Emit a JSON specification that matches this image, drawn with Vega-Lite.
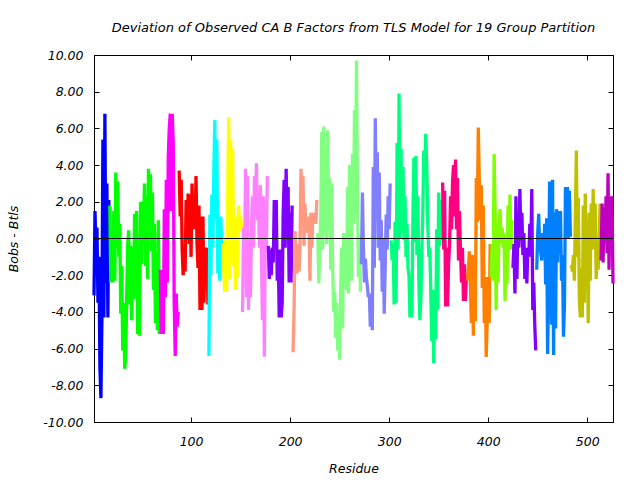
{
 "$schema": "https://vega.github.io/schema/vega-lite/v6.json",
 "width": 519,
 "height": 367,
 "autosize": {"type": "none"},
 "padding": {"left": 94, "top": 55, "right": 27, "bottom": 58},
 "background": "white",
 "title": {"text": "Deviation of Observed CA B Factors from TLS Model for 19 Group Partition", "font": "DejaVu Sans", "fontStyle": "italic", "fontWeight": "normal", "fontSize": 13, "color": "black", "anchor": "middle", "offset": 14},
 "config": {"view": {"stroke": "black", "strokeWidth": 1}},
 "data": {"values": [
{"r":2,"v":-3.1,"s":1},{"r":3,"v":1.5,"s":1},{"r":4,"v":-0.6,"s":1},{"r":5,"v":0.6,"s":1},{"r":6,"v":-3.5,"s":1},{"r":7,"v":-1.0,"s":1},{"r":8,"v":-7.1,"s":1},{"r":9,"v":-8.7,"s":1},{"r":10,"v":-4.3,"s":1},{"r":11,"v":5.4,"s":1},{"r":12,"v":-4.3,"s":1},{"r":13,"v":6.8,"s":1},{"r":14,"v":-2.45,"s":1},{"r":15,"v":3.0,"s":1},{"r":16,"v":-4.3,"s":1},{"r":17,"v":2.1,"s":1},
{"r":18,"v":1.8,"s":2},{"r":19,"v":-2.4,"s":2},{"r":20,"v":0.4,"s":2},{"r":21,"v":-2.4,"s":2},{"r":22,"v":1.5,"s":2},{"r":23,"v":-2.3,"s":2},{"r":24,"v":3.6,"s":2},{"r":25,"v":-0.5,"s":2},{"r":26,"v":3.1,"s":2},{"r":27,"v":-1.0,"s":2},{"r":28,"v":0.8,"s":2},{"r":29,"v":-4.1,"s":2},{"r":30,"v":-1.5,"s":2},{"r":31,"v":-6.1,"s":2},{"r":32,"v":-3.5,"s":2},{"r":33,"v":-7.1,"s":2},{"r":34,"v":-6.5,"s":2},{"r":35,"v":-3.2,"s":2},{"r":36,"v":-0.4,"s":2},{"r":37,"v":0.45,"s":2},{"r":38,"v":-3.6,"s":2},{"r":39,"v":-0.4,"s":2},{"r":40,"v":-4.45,"s":2},{"r":41,"v":-0.5,"s":2},{"r":42,"v":-3.3,"s":2},{"r":43,"v":1.35,"s":2},{"r":44,"v":-2.3,"s":2},{"r":45,"v":1.5,"s":2},{"r":46,"v":-5.2,"s":2},{"r":47,"v":-1.2,"s":2},{"r":48,"v":-5.3,"s":2},{"r":49,"v":2.0,"s":2},{"r":50,"v":-1.4,"s":2},{"r":51,"v":2.0,"s":2},{"r":52,"v":0.8,"s":2},{"r":53,"v":3.0,"s":2},{"r":54,"v":-1.5,"s":2},{"r":55,"v":2.3,"s":2},{"r":56,"v":-2.2,"s":2},{"r":57,"v":3.8,"s":2},{"r":58,"v":0.5,"s":2},{"r":59,"v":3.5,"s":2},{"r":60,"v":-0.7,"s":2},{"r":61,"v":2.5,"s":2},{"r":62,"v":-2.8,"s":2},{"r":63,"v":0.8,"s":2},{"r":64,"v":-4.6,"s":2},{"r":65,"v":-2.0,"s":2},{"r":66,"v":-5.0,"s":2},{"r":67,"v":1.0,"s":2},{"r":68,"v":-5.2,"s":2},
{"r":69,"v":-1.7,"s":3},{"r":70,"v":-5.2,"s":3},{"r":71,"v":-1.7,"s":3},{"r":72,"v":-5.2,"s":3},{"r":73,"v":1.6,"s":3},{"r":74,"v":-3.2,"s":3},{"r":75,"v":3.2,"s":3},{"r":76,"v":-2.4,"s":3},{"r":77,"v":4.5,"s":3},{"r":78,"v":6.0,"s":3},{"r":79,"v":6.8,"s":3},{"r":80,"v":1.5,"s":3},{"r":81,"v":6.8,"s":3},{"r":82,"v":5.2,"s":3},{"r":83,"v":-3.6,"s":3},{"r":84,"v":-6.4,"s":3},{"r":85,"v":-3.0,"s":3},{"r":86,"v":-4.8,"s":3},{"r":87,"v":-4.0,"s":3},
{"r":88,"v":3.7,"s":4},{"r":89,"v":1.2,"s":4},{"r":90,"v":3.2,"s":4},{"r":91,"v":-0.6,"s":4},{"r":92,"v":-2.0,"s":4},{"r":93,"v":-1.0,"s":4},{"r":94,"v":-1.8,"s":4},{"r":95,"v":2.1,"s":4},{"r":96,"v":0.0,"s":4},{"r":97,"v":2.45,"s":4},{"r":98,"v":-0.3,"s":4},{"r":99,"v":2.4,"s":4},{"r":100,"v":-1.0,"s":4},{"r":101,"v":3.0,"s":4},{"r":102,"v":0.5,"s":4},{"r":103,"v":2.4,"s":4},{"r":104,"v":0.5,"s":4},{"r":105,"v":3.4,"s":4},{"r":106,"v":-0.3,"s":4},{"r":107,"v":-1.6,"s":4},{"r":108,"v":1.8,"s":4},{"r":109,"v":-3.9,"s":4},{"r":110,"v":1.2,"s":4},{"r":111,"v":-3.9,"s":4},{"r":112,"v":1.2,"s":4},{"r":113,"v":-3.5,"s":4},{"r":114,"v":-0.5,"s":4},{"r":115,"v":-1.8,"s":4},{"r":116,"v":-0.5,"s":4},{"r":117,"v":-3.6,"s":4},
{"r":118,"v":-6.4,"s":5},{"r":119,"v":1.3,"s":5},{"r":120,"v":-2.0,"s":5},{"r":121,"v":2.4,"s":5},{"r":122,"v":-0.5,"s":5},{"r":123,"v":3.7,"s":5},{"r":124,"v":6.45,"s":5},{"r":125,"v":1.0,"s":5},{"r":126,"v":5.4,"s":5},{"r":127,"v":-1.9,"s":5},{"r":128,"v":0.0,"s":5},{"r":129,"v":-2.3,"s":5},{"r":130,"v":1.2,"s":5},{"r":131,"v":-0.5,"s":5},
{"r":132,"v":-0.3,"s":6},{"r":133,"v":-1.7,"s":6},{"r":134,"v":-2.9,"s":6},{"r":135,"v":0.0,"s":6},{"r":136,"v":-2.9,"s":6},{"r":137,"v":2.3,"s":6},{"r":138,"v":6.6,"s":6},{"r":139,"v":-2.2,"s":6},{"r":140,"v":5.4,"s":6},{"r":141,"v":0.0,"s":6},{"r":142,"v":4.9,"s":6},{"r":143,"v":-1.5,"s":6},{"r":144,"v":1.0,"s":6},{"r":145,"v":-2.8,"s":6},{"r":146,"v":1.2,"s":6},{"r":147,"v":-2.1,"s":6},{"r":148,"v":1.8,"s":6},{"r":149,"v":0.4,"s":6},{"r":150,"v":1.2,"s":6},{"r":151,"v":0.6,"s":6},
{"r":152,"v":-4.0,"s":7},{"r":153,"v":0.6,"s":7},{"r":154,"v":-1.7,"s":7},{"r":155,"v":3.8,"s":7},{"r":156,"v":-3.2,"s":7},{"r":157,"v":3.4,"s":7},{"r":158,"v":-3.9,"s":7},{"r":159,"v":-1.0,"s":7},{"r":160,"v":-3.2,"s":7},{"r":161,"v":0.5,"s":7},{"r":162,"v":2.3,"s":7},{"r":163,"v":-0.5,"s":7},{"r":164,"v":3.4,"s":7},{"r":165,"v":1.3,"s":7},{"r":166,"v":4.1,"s":7},{"r":167,"v":1.0,"s":7},{"r":168,"v":2.3,"s":7},{"r":169,"v":-0.5,"s":7},{"r":170,"v":2.9,"s":7},{"r":171,"v":-0.5,"s":7},{"r":172,"v":-4.45,"s":7},{"r":173,"v":2.3,"s":7},{"r":174,"v":-6.45,"s":7},{"r":175,"v":0.6,"s":7},{"r":176,"v":-0.5,"s":7},{"r":177,"v":3.4,"s":7},
{"r":178,"v":-0.4,"s":8},{"r":179,"v":-2.2,"s":8},{"r":180,"v":-0.6,"s":8},{"r":181,"v":-2.0,"s":8},{"r":182,"v":-0.5,"s":8},{"r":183,"v":-1.3,"s":8},{"r":184,"v":2.1,"s":8},{"r":185,"v":-0.3,"s":8},{"r":186,"v":2.1,"s":8},{"r":187,"v":-2.3,"s":8},{"r":188,"v":-0.8,"s":8},{"r":189,"v":-4.3,"s":8},{"r":190,"v":-0.6,"s":8},{"r":191,"v":-4.3,"s":8},{"r":192,"v":-3.5,"s":8},{"r":193,"v":1.4,"s":8},{"r":194,"v":3.2,"s":8},{"r":195,"v":-0.5,"s":8},{"r":196,"v":3.8,"s":8},{"r":197,"v":0.3,"s":8},{"r":198,"v":2.8,"s":8},{"r":199,"v":-2.4,"s":8},{"r":200,"v":1.4,"s":8},{"r":201,"v":-2.4,"s":8},{"r":202,"v":1.8,"s":8},
{"r":203,"v":-6.2,"s":9},{"r":204,"v":-3.9,"s":9},{"r":205,"v":0.4,"s":9},{"r":206,"v":-1.3,"s":9},{"r":207,"v":-1.9,"s":9},{"r":208,"v":-0.3,"s":9},{"r":209,"v":-1.8,"s":9},{"r":210,"v":-0.5,"s":9},{"r":211,"v":3.8,"s":9},{"r":212,"v":1.2,"s":9},{"r":213,"v":3.4,"s":9},{"r":214,"v":-0.4,"s":9},{"r":215,"v":1.9,"s":9},{"r":216,"v":0.5,"s":9},{"r":217,"v":1.0,"s":9},{"r":218,"v":0.3,"s":9},{"r":219,"v":1.2,"s":9},{"r":220,"v":-2.3,"s":9},{"r":221,"v":1.4,"s":9},{"r":222,"v":-0.5,"s":9},{"r":223,"v":1.4,"s":9},{"r":224,"v":0.8,"s":9},{"r":225,"v":1.2,"s":9},{"r":226,"v":0.8,"s":9},{"r":227,"v":2.1,"s":9},
{"r":228,"v":0.3,"s":10},{"r":229,"v":-2.45,"s":10},{"r":230,"v":-0.5,"s":10},{"r":231,"v":1.4,"s":10},{"r":232,"v":5.8,"s":10},{"r":233,"v":-0.6,"s":10},{"r":234,"v":6.1,"s":10},{"r":235,"v":0.3,"s":10},{"r":236,"v":4.7,"s":10},{"r":237,"v":-0.3,"s":10},{"r":238,"v":5.9,"s":10},{"r":239,"v":0.5,"s":10},{"r":240,"v":3.3,"s":10},{"r":241,"v":-1.7,"s":10},{"r":242,"v":3.0,"s":10},{"r":243,"v":-1.6,"s":10},{"r":244,"v":-4.0,"s":10},{"r":245,"v":-2.9,"s":10},{"r":246,"v":-5.4,"s":10},{"r":247,"v":-3.5,"s":10},{"r":248,"v":-6.1,"s":10},{"r":249,"v":-4.2,"s":10},{"r":250,"v":-6.6,"s":10},{"r":251,"v":-3.0,"s":10},{"r":252,"v":-0.5,"s":10},{"r":253,"v":-4.9,"s":10},{"r":254,"v":0.3,"s":10},{"r":255,"v":-2.4,"s":10},{"r":256,"v":-0.8,"s":10},{"r":257,"v":-2.8,"s":10},{"r":258,"v":2.8,"s":10},{"r":259,"v":-3.0,"s":10},{"r":260,"v":4.0,"s":10},{"r":261,"v":0.0,"s":10},{"r":262,"v":-2.3,"s":10},{"r":263,"v":4.6,"s":10},{"r":264,"v":0.8,"s":10},{"r":265,"v":7.0,"s":10},{"r":266,"v":1.3,"s":10},{"r":267,"v":9.7,"s":10},{"r":268,"v":2.3,"s":10},{"r":269,"v":-2.1,"s":10},{"r":270,"v":0.2,"s":10},{"r":271,"v":-2.9,"s":10},
{"r":272,"v":-1.4,"s":11},{"r":273,"v":2.5,"s":11},{"r":274,"v":-0.5,"s":11},{"r":275,"v":-2.4,"s":11},{"r":276,"v":-1.1,"s":11},{"r":277,"v":-2.1,"s":11},{"r":278,"v":-2.6,"s":11},{"r":279,"v":-3.2,"s":11},{"r":280,"v":-3.0,"s":11},{"r":281,"v":-4.8,"s":11},{"r":282,"v":-3.5,"s":11},{"r":283,"v":-5.0,"s":11},{"r":284,"v":3.9,"s":11},{"r":285,"v":-1.6,"s":11},{"r":286,"v":6.55,"s":11},{"r":287,"v":1.2,"s":11},{"r":288,"v":4.7,"s":11},{"r":289,"v":-0.5,"s":11},{"r":290,"v":3.6,"s":11},{"r":291,"v":-1.2,"s":11},{"r":292,"v":1.0,"s":11},{"r":293,"v":-2.9,"s":11},{"r":294,"v":0.0,"s":11},{"r":295,"v":-4.1,"s":11},{"r":296,"v":-1.6,"s":11},{"r":297,"v":1.3,"s":11},{"r":298,"v":-0.6,"s":11},{"r":299,"v":2.3,"s":11},{"r":300,"v":0.5,"s":11},{"r":301,"v":3.0,"s":11},
{"r":302,"v":-0.1,"s":12},{"r":303,"v":-1.2,"s":12},{"r":304,"v":-0.3,"s":12},{"r":305,"v":-3.6,"s":12},{"r":306,"v":0.9,"s":12},{"r":307,"v":-3.5,"s":12},{"r":308,"v":5.2,"s":12},{"r":309,"v":-0.6,"s":12},{"r":310,"v":7.9,"s":12},{"r":311,"v":0.0,"s":12},{"r":312,"v":4.9,"s":12},{"r":313,"v":0.3,"s":12},{"r":314,"v":3.9,"s":12},{"r":315,"v":-0.1,"s":12},{"r":316,"v":2.3,"s":12},{"r":317,"v":-1.0,"s":12},{"r":318,"v":0.8,"s":12},{"r":319,"v":-1.6,"s":12},{"r":320,"v":-2.0,"s":12},{"r":321,"v":-4.3,"s":12},{"r":322,"v":-2.3,"s":12},{"r":323,"v":-4.3,"s":12},{"r":324,"v":1.2,"s":12},{"r":325,"v":4.4,"s":12},{"r":326,"v":-0.2,"s":12},{"r":327,"v":4.5,"s":12},{"r":328,"v":-0.9,"s":12},{"r":329,"v":2.3,"s":12},{"r":330,"v":-2.4,"s":12},{"r":331,"v":-4.45,"s":12},{"r":332,"v":-3.3,"s":12},{"r":333,"v":-0.8,"s":12},{"r":334,"v":1.5,"s":12},{"r":335,"v":4.8,"s":12},{"r":336,"v":3.9,"s":12},{"r":337,"v":5.7,"s":12},{"r":338,"v":3.9,"s":12},{"r":339,"v":0.8,"s":12},{"r":340,"v":-1.0,"s":12},{"r":341,"v":-0.5,"s":12},{"r":342,"v":-2.8,"s":12},{"r":343,"v":-5.6,"s":12},{"r":344,"v":-2.8,"s":12},{"r":345,"v":-6.8,"s":12},{"r":346,"v":-2.8,"s":12},{"r":347,"v":-5.5,"s":12},{"r":348,"v":0.5,"s":12},{"r":349,"v":-3.9,"s":12},{"r":350,"v":2.5,"s":12},{"r":351,"v":-0.4,"s":12},{"r":352,"v":2.1,"s":12},{"r":353,"v":-0.1,"s":12},
{"r":354,"v":3.05,"s":13},{"r":355,"v":-0.6,"s":13},{"r":356,"v":2.6,"s":13},{"r":357,"v":-3.7,"s":13},{"r":358,"v":-0.5,"s":13},{"r":359,"v":-3.7,"s":13},{"r":360,"v":-1.4,"s":13},{"r":361,"v":-0.3,"s":13},{"r":362,"v":2.3,"s":13},{"r":363,"v":0.5,"s":13},{"r":364,"v":3.1,"s":13},{"r":365,"v":4.0,"s":13},{"r":366,"v":1.2,"s":13},{"r":367,"v":4.3,"s":13},{"r":368,"v":0.5,"s":13},{"r":369,"v":3.3,"s":13},{"r":370,"v":-1.2,"s":13},{"r":371,"v":1.5,"s":13},{"r":372,"v":-0.6,"s":13},{"r":373,"v":-2.4,"s":13},{"r":374,"v":-0.5,"s":13},{"r":375,"v":-3.4,"s":13},{"r":376,"v":-1.4,"s":13},{"r":377,"v":-3.4,"s":13},{"r":378,"v":-2.0,"s":13},
{"r":379,"v":-2.3,"s":14},{"r":380,"v":-1.6,"s":14},{"r":381,"v":-0.7,"s":14},{"r":382,"v":-2.4,"s":14},{"r":383,"v":-4.6,"s":14},{"r":384,"v":-0.9,"s":14},{"r":385,"v":-5.3,"s":14},{"r":386,"v":-1.4,"s":14},{"r":387,"v":-4.5,"s":14},{"r":388,"v":3.3,"s":14},{"r":389,"v":0.9,"s":14},{"r":390,"v":6.05,"s":14},{"r":391,"v":3.2,"s":14},{"r":392,"v":1.0,"s":14},{"r":393,"v":2.9,"s":14},{"r":394,"v":-2.7,"s":14},{"r":395,"v":1.8,"s":14},{"r":396,"v":-4.6,"s":14},{"r":397,"v":-2.1,"s":14},{"r":398,"v":-6.45,"s":14},{"r":399,"v":-4.5,"s":14},{"r":400,"v":-2.1,"s":14},{"r":401,"v":-4.6,"s":14},{"r":402,"v":-0.3,"s":14},
{"r":403,"v":-2.1,"s":15},{"r":404,"v":-0.3,"s":15},{"r":405,"v":-2.3,"s":15},{"r":406,"v":4.6,"s":15},{"r":407,"v":1.5,"s":15},{"r":408,"v":-3.9,"s":15},{"r":409,"v":0.8,"s":15},{"r":410,"v":-2.4,"s":15},{"r":411,"v":0.8,"s":15},{"r":412,"v":1.6,"s":15},{"r":413,"v":-0.3,"s":15},{"r":414,"v":0.6,"s":15},{"r":415,"v":-0.5,"s":15},{"r":416,"v":0.3,"s":15},{"r":417,"v":-3.4,"s":15},{"r":418,"v":-0.3,"s":15},{"r":419,"v":-2.5,"s":15},{"r":420,"v":1.8,"s":15},{"r":421,"v":-0.5,"s":15},{"r":422,"v":2.4,"s":15},{"r":423,"v":-0.6,"s":15},{"r":424,"v":1.0,"s":15},
{"r":425,"v":-1.6,"s":16},{"r":426,"v":-0.3,"s":16},{"r":427,"v":-3.0,"s":16},{"r":428,"v":2.3,"s":16},{"r":429,"v":-2.2,"s":16},{"r":430,"v":1.0,"s":16},{"r":431,"v":-0.5,"s":16},{"r":432,"v":2.7,"s":16},{"r":433,"v":-0.1,"s":16},{"r":434,"v":1.4,"s":16},{"r":435,"v":-0.9,"s":16},{"r":436,"v":0.3,"s":16},{"r":437,"v":-2.2,"s":16},{"r":438,"v":-0.5,"s":16},{"r":439,"v":-2.45,"s":16},{"r":440,"v":-0.7,"s":16},{"r":441,"v":-1.0,"s":16},{"r":442,"v":0.8,"s":16},{"r":443,"v":-0.9,"s":16},{"r":444,"v":2.7,"s":16},{"r":445,"v":-3.9,"s":16},{"r":446,"v":-2.4,"s":16},{"r":447,"v":-4.7,"s":16},{"r":448,"v":-6.1,"s":16},
{"r":449,"v":-1.7,"s":17},{"r":450,"v":0.3,"s":17},{"r":451,"v":1.35,"s":17},{"r":452,"v":-0.6,"s":17},{"r":453,"v":-0.7,"s":17},{"r":454,"v":-1.2,"s":17},{"r":455,"v":0.3,"s":17},{"r":456,"v":-1.0,"s":17},{"r":457,"v":0.8,"s":17},{"r":458,"v":-2.5,"s":17},{"r":459,"v":1.1,"s":17},{"r":460,"v":-6.3,"s":17},{"r":461,"v":-2.2,"s":17},{"r":462,"v":3.1,"s":17},{"r":463,"v":-0.5,"s":17},{"r":464,"v":-4.7,"s":17},{"r":465,"v":3.2,"s":17},{"r":466,"v":-6.35,"s":17},{"r":467,"v":1.4,"s":17},{"r":468,"v":-4.9,"s":17},{"r":469,"v":1.6,"s":17},{"r":470,"v":-1.3,"s":17},{"r":471,"v":1.5,"s":17},{"r":472,"v":-0.8,"s":17},{"r":473,"v":1.5,"s":17},{"r":474,"v":-2.3,"s":17},{"r":475,"v":-0.9,"s":17},{"r":476,"v":-5.35,"s":17},{"r":477,"v":-3.6,"s":17},{"r":478,"v":2.8,"s":17},{"r":479,"v":0.1,"s":17},{"r":480,"v":2.8,"s":17},{"r":481,"v":0.0,"s":17},{"r":482,"v":2.6,"s":17},{"r":483,"v":0.1,"s":17},
{"r":484,"v":-1.45,"s":18},{"r":485,"v":-1.8,"s":18},{"r":486,"v":-0.9,"s":18},{"r":487,"v":-2.3,"s":18},{"r":488,"v":1.2,"s":18},{"r":489,"v":4.8,"s":18},{"r":490,"v":-1.0,"s":18},{"r":491,"v":2.2,"s":18},{"r":492,"v":-3.3,"s":18},{"r":493,"v":-4.3,"s":18},{"r":494,"v":-1.6,"s":18},{"r":495,"v":-4.3,"s":18},{"r":496,"v":1.8,"s":18},{"r":497,"v":-3.5,"s":18},{"r":498,"v":2.45,"s":18},{"r":499,"v":-0.6,"s":18},{"r":500,"v":-0.4,"s":18},{"r":501,"v":-4.6,"s":18},{"r":502,"v":1.4,"s":18},{"r":503,"v":-2.3,"s":18},{"r":504,"v":1.9,"s":18},{"r":505,"v":-0.6,"s":18},{"r":506,"v":2.7,"s":18},{"r":507,"v":-0.6,"s":18},{"r":508,"v":1.9,"s":18},{"r":509,"v":-2.2,"s":18},{"r":510,"v":-0.4,"s":18},{"r":511,"v":-1.7,"s":18},{"r":512,"v":0.0,"s":18},{"r":513,"v":1.9,"s":18},
{"r":514,"v":-1.2,"s":19},{"r":515,"v":1.9,"s":19},{"r":516,"v":-1.3,"s":19},{"r":517,"v":1.7,"s":19},{"r":518,"v":0.2,"s":19},{"r":519,"v":2.3,"s":19},{"r":520,"v":-0.8,"s":19},{"r":521,"v":3.55,"s":19},{"r":522,"v":-1.7,"s":19},{"r":523,"v":2.3,"s":19},{"r":524,"v":-0.6,"s":19},{"r":525,"v":2.3,"s":19},{"r":526,"v":-2.45,"s":19}
 ]},
 "resolve": {"axis": {"x": "independent", "y": "independent"}},
 "layer": [
  {
   "mark": {"type": "line", "strokeWidth": 3.3, "strokeCap": "butt"},
   "encoding": {
    "x": {"field": "r", "type": "quantitative", "scale": {"domain": [2, 526], "nice": false, "zero": false},
     "axis": {"orient": "bottom", "values": [100, 200, 300, 400, 500], "grid": false, "domainColor": "black", "tickColor": "black", "tickSize": -5, "labelPadding": 18, "labelFont": "DejaVu Sans", "labelFontStyle": "italic", "labelFontSize": 12.5, "labelColor": "black", "title": "Residue", "titleFont": "DejaVu Sans", "titleFontStyle": "italic", "titleFontWeight": "normal", "titleFontSize": 12.5, "titleColor": "black", "titlePadding": 15}},
    "y": {"field": "v", "type": "quantitative", "scale": {"domain": [-10, 10], "nice": false, "zero": false},
     "axis": {"orient": "left", "values": [-10, -8, -6, -4, -2, 0, 2, 4, 6, 8, 10], "labelExpr": "replace(format(datum.value, '.2f'), '\u2212', '-')", "grid": false, "domainColor": "black", "tickColor": "black", "tickSize": -5, "labelPadding": 16, "labelFont": "DejaVu Sans", "labelFontStyle": "italic", "labelFontSize": 12.5, "labelColor": "black", "title": "Bobs - Btls", "titleFont": "DejaVu Sans", "titleFontStyle": "italic", "titleFontWeight": "normal", "titleFontSize": 12.5, "titleColor": "black", "titlePadding": 22}},
    "color": {"field": "s", "type": "nominal", "legend": null,
     "scale": {"domain": [1,2,3,4,5,6,7,8,9,10,11,12,13,14,15,16,17,18,19],
      "range": ["#0000ff","#00ff00","#ff00ff","#ff0000","#00ffff","#ffff00","#ff80ff","#8000ff","#ff9980","#80ff80","#8080ff","#00ff80","#ff0080","#ff8000","#80ff00","#8000ff","#0080ff","#c0c000","#c000c0"]}}
   }
  },
  {
   "mark": {"type": "rule", "color": "black", "strokeWidth": 1},
   "encoding": {"y": {"datum": 0, "type": "quantitative", "axis": null}}
  },
  {
   "mark": {"type": "point", "opacity": 0},
   "encoding": {
    "x": {"field": "r", "type": "quantitative", "axis": {"orient": "top", "values": [100, 200, 300, 400, 500], "labels": false, "grid": false, "domainColor": "black", "tickColor": "black", "tickSize": -5, "title": null}},
    "y": {"field": "v", "type": "quantitative", "axis": {"orient": "right", "values": [-10, -8, -6, -4, -2, 0, 2, 4, 6, 8, 10], "labels": false, "grid": false, "domainColor": "black", "tickColor": "black", "tickSize": -5, "title": null}}
   }
  }
 ]
}
